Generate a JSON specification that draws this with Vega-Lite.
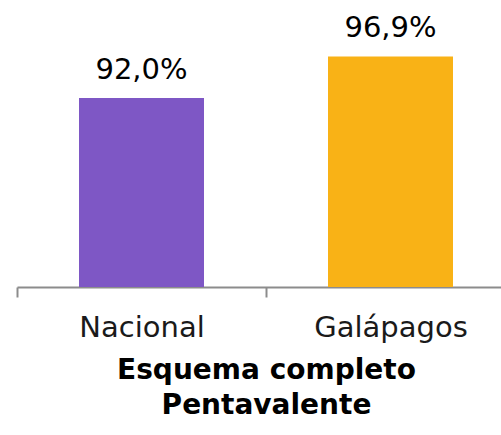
{
  "$schema": "https://vega.github.io/schema/vega-lite/v6.json",
  "autosize": {"type": "none"},
  "width": 484,
  "height": 257,
  "padding": {"left": 17, "top": 30, "right": 0, "bottom": 148},
  "background": "white",
  "config": {"view": {"stroke": null}},
  "data": {
    "values": [
      {"region": "Nacional", "value": 92.0, "label": "92,0%"},
      {"region": "Galápagos", "value": 96.9, "label": "96,9%"}
    ]
  },
  "encoding": {
    "x": {
      "field": "region",
      "type": "nominal",
      "sort": null,
      "scale": {"range": [0, 498], "paddingInner": 0, "paddingOuter": 0},
      "axis": {
        "title": ["Esquema completo", "Pentavalente"],
        "titleFont": "DejaVu Sans",
        "titleFontSize": 28,
        "titleFontWeight": "bold",
        "titleColor": "#000000",
        "titleLineHeight": 35,
        "titlePadding": 14,
        "labelAngle": 0,
        "labelFont": "DejaVu Sans",
        "labelFontSize": 29,
        "labelColor": "#1a1a1a",
        "labelPadding": 16,
        "tickBand": "extent",
        "tickSize": 10,
        "tickColor": "#8c8c8c",
        "tickWidth": 2,
        "domainColor": "#8c8c8c",
        "domainWidth": 2,
        "grid": false
      }
    },
    "y": {
      "field": "value",
      "type": "quantitative",
      "scale": {"domain": [69.8, 100], "zero": false},
      "axis": null
    }
  },
  "layer": [
    {
      "mark": {"type": "bar", "width": {"band": 0.502}, "clip": true},
      "encoding": {
        "color": {
          "field": "region",
          "type": "nominal",
          "scale": {"domain": ["Nacional", "Galápagos"], "range": ["#7E57C5", "#F9B216"]},
          "legend": null
        }
      }
    },
    {
      "mark": {"type": "text", "baseline": "alphabetic", "dy": -19, "font": "DejaVu Sans", "fontSize": 29, "color": "#000000"},
      "encoding": {"text": {"field": "label"}}
    }
  ]
}
